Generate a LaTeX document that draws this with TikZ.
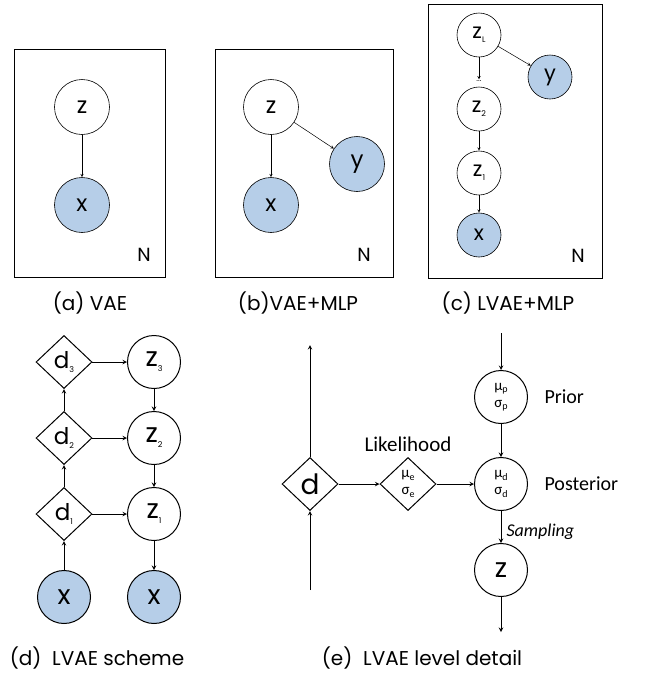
\documentclass[tikz,border=0pt]{standalone}
\usepackage{fontspec}
\setmainfont{Poppins}
\newfontfamily\labelfont{Carlito}
\usetikzlibrary{shapes.geometric}
\definecolor{obsblue}{RGB}{182,206,232}
\newcommand{\lowidx}[1]{\raisebox{-0.35ex}{\fontsize{8}{8}\selectfont #1}}
\newcommand{\greekidx}[1]{\raisebox{-0.35ex}{\fontsize{10}{10}\selectfont #1}}

\begin{document}
\begin{tikzpicture}[x=1pt, y=-1pt, >=stealth,
   thinvar/.style={circle, draw, line width=0.6pt, inner sep=0pt, minimum size=55pt, font=\fontsize{23}{23}\selectfont},
   smallvar/.style={thinvar, minimum size=44pt, font=\fontsize{21}{21}\selectfont},
   thickvar/.style={circle, draw, line width=1pt, inner sep=0pt, minimum size=53pt, font=\fontsize{27}{27}\selectfont},
   detvar/.style={diamond, draw, line width=1pt, inner sep=0pt, minimum width=56pt, minimum height=53pt, font=\fontsize{23}{23}\selectfont},
   obs/.style={fill=obsblue},
   caption/.style={font=\fontsize{20}{20}\selectfont},
   plate/.style={font=\fontsize{19}{19}\selectfont},
   sidelabel/.style={anchor=west, font=\labelfont\fontsize{20}{20}\selectfont},
   stats/.style={align=center, font=\labelfont\fontsize{15}{17}\selectfont}]
   \useasboundingbox (0,0) rectangle (646,673);

   % (a) VAE
   \draw [line width=0.8pt] (14,49) rectangle (165,277);
   \node [thinvar] (za) at (82,107) {z};
   \node [thinvar, obs] (xa) at (82,205) {x};
   \draw [->, line width=0.5pt] (za) -- (xa);
   \node [plate] at (144,255) {N};
   \node [caption] at (90,303) {(a) VAE};

   % (b) VAE+MLP
   \draw [line width=0.8pt] (215,49) rectangle (393,277);
   \node [thinvar] (zb) at (271,107) {z};
   \node [thinvar, obs] (xb) at (271,205) {x};
   \node [thinvar, obs] (yb) at (357,164) {y};
   \draw [->, line width=0.5pt] (zb) -- (xb);
   \draw [->, line width=0.5pt] (zb) -- (yb);
   \node [plate] at (364,255) {N};
   \node [caption] at (298,303) {(b)VAE+MLP};

   % (c) LVAE+MLP
   \draw [line width=0.8pt] (428,4) rectangle (602,278);
   \node [smallvar] (zLc) at (479,35) {z\lowidx{L}};
   \node [smallvar, obs] (yc) at (550,77) {y};
   \node [font=\fontsize{8}{8}\selectfont, inner sep=1pt] (dotsc) at (479,81) {...};
   \node [smallvar] (z2c) at (479,109) {z\lowidx{2}};
   \node [smallvar] (z1c) at (479,173) {z\lowidx{1}};
   \node [smallvar, obs] (xc) at (479,235) {x};
   \draw [->, line width=0.5pt] (zLc) -- (dotsc);
   \draw [->, line width=0.5pt] (zLc) -- (yc);
   \draw [->, line width=0.5pt] (z2c) -- (z1c);
   \draw [->, line width=0.5pt] (z1c) -- (xc);
   \node [plate] at (578,256) {N};
   \node [caption] at (508,303) {(c) LVAE+MLP};

   % (d) LVAE scheme
   \foreach \i/\y in {1/514, 2/438, 3/362} {
      \node [detvar] (d\i) at (64,\y) {d\lowidx{\i}};
      \node [thickvar] (z\i) at (154,\y) {z\lowidx{\i}};
      \draw [->, line width=1pt] (d\i) -- (z\i);
   }
   \node [thickvar, obs] (xin) at (64,597) {x};
   \node [thickvar, obs] (xout) at (154,597) {x};
   \draw [->, line width=1pt] (xin) -- (d1);
   \draw [->, line width=1pt] (d1) -- (d2);
   \draw [->, line width=1pt] (d2) -- (d3);
   \draw [->, line width=1pt] (z3) -- (z2);
   \draw [->, line width=1pt] (z2) -- (z1);
   \draw [->, line width=1pt] (z1) -- (xout);
   \node [caption] at (97,658) {(d)\ \ LVAE scheme};

   % (e) LVAE level detail
   \node [detvar, font=\fontsize{28}{28}\selectfont] (dl) at (310,484) {d};
   \coordinate (dup) at (310,345);
   \coordinate (dlow) at (310,590);
   \draw [->, line width=1pt] (dl) -- (dup);
   \draw [->, line width=1pt] (dlow) -- (dl);
   \node [detvar, stats] (lik) at (408,484) {μ\greekidx{e}\\σ\greekidx{e}};
   \node [font=\labelfont\fontsize{21}{21}\selectfont] at (408,444) {Likelihood};
   \node [thickvar, stats] (prior) at (501,397) {μ\greekidx{p}\\σ\greekidx{p}};
   \node [thickvar, stats] (post) at (501,484) {μ\greekidx{d}\\σ\greekidx{d}};
   \node [thickvar] (zl) at (501,570) {z};
   \coordinate (ptop) at (501,333);
   \coordinate (zlow) at (501,632);
   \draw [->, line width=1pt] (ptop) -- (prior);
   \draw [->, line width=1pt] (prior) -- (post);
   \draw [->, line width=1pt] (dl) -- (lik);
   \draw [->, line width=1pt] (lik) -- (post);
   \draw [->, line width=1pt] (post) -- (zl);
   \draw [->, line width=1pt] (zl) -- (zlow);
   \node [sidelabel] at (541,397) {Prior};
   \node [sidelabel] at (541,484) {Posterior};
   \node [sidelabel, font=\labelfont\itshape\fontsize{18}{18}\selectfont] at (503,532) {Sampling};
   \node [caption] at (422,658) {(e)\ \ LVAE level detail};
\end{tikzpicture}
\end{document}
